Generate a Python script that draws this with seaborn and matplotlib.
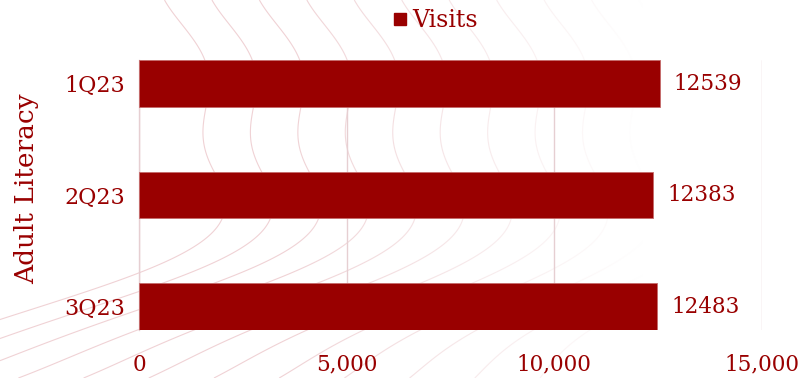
import numpy as np
import pandas as pd
import matplotlib
matplotlib.use("Agg")
import matplotlib.pyplot as plt
from matplotlib.lines import Line2D
import seaborn as sns

quarters = ["1Q23", "2Q23", "3Q23"]
visits = [12539, 12383, 12483]
x_ticks = [0, 5000, 10000, 15000]
x_tick_labels = ["0", "5,000", "10,000", "15,000"]
series_name = "Visits"
group_name = "Adult Literacy"

RED = "#990000"
GRID = "#e6cfd2"

sns.set_theme(style="white")
plt.rcParams["font.family"] = ["DejaVu Serif"]

df = pd.DataFrame({"quarter": quarters, "visits": visits})

fig = plt.figure(figsize=(8.03, 3.78), dpi=100)

# faint topographic-style decoration behind the chart, fading to the right
bg = fig.add_axes([0, 0, 1, 1], zorder=0)
gx, gy = np.meshgrid(np.linspace(0, 1, 400), np.linspace(0, 1, 400))
field = (gx + 0.035 * np.sin(7 * gy + 1.0) + 0.025 * np.sin(13 * gy)
         + 0.9 * np.clip(0.55 - gy, 0, None) ** 2 * (1.4 - gx))
bg.contour(gx, gy, field, levels=np.linspace(0.25, 0.9, 12),
           colors="#f0d2d5", linewidths=0.8)
fade = np.clip((gx - 0.35) / 0.45, 0, 1)
overlay = np.zeros(gx.shape + (4,))
overlay[..., :3] = 1.0
overlay[..., 3] = fade
bg.imshow(overlay, extent=(0, 1, 0, 1), origin="lower", aspect="auto",
          zorder=2)
bg.set_xlim(0, 1)
bg.set_ylim(0, 1)
bg.axis("off")

ax = fig.add_axes([0.1731, 0.127, 0.7759, 0.714], zorder=1)
ax.patch.set_alpha(0)

sns.barplot(data=df, x="visits", y="quarter", orient="h", color=RED,
            width=0.42, saturation=1, ax=ax, zorder=3)
for bar in ax.patches:
    bar.set_edgecolor("#c46a6a")
    bar.set_linewidth(0.6)

ax.bar_label(ax.containers[0], labels=[str(v) for v in visits],
             padding=10, color=RED, fontsize=15.5)

ax.set_xlim(0, 15000)
ax.set_ylim(2 + 0.21, -0.21)
ax.set_xticks(x_ticks)
ax.set_xticklabels(x_tick_labels)
ax.tick_params(axis="x", length=0, pad=17, labelsize=15.5, labelcolor=RED)
ax.tick_params(axis="y", length=0, pad=10, labelsize=16, labelcolor=RED)

ax.grid(axis="x", color=GRID, linewidth=1, zorder=0)
ax.set_axisbelow(True)
for side in ["top", "right", "bottom"]:
    ax.spines[side].set_visible(False)
ax.spines["left"].set_color(GRID)
ax.spines["left"].set_linewidth(1)

ax.set_xlabel("")
ax.set_ylabel(group_name, fontsize=19, color=RED)
ax.yaxis.set_label_coords(-0.16, 0.522)

handle = Line2D([], [], marker="s", linestyle="none", markersize=8,
                color=RED)
fig.legend([handle], [series_name], loc="center", bbox_to_anchor=(0.541, 0.945),
           frameon=False, fontsize=17, labelcolor=RED, handletextpad=0.1,
           handlelength=0.8)

fig.savefig("out.png", dpi=100)
